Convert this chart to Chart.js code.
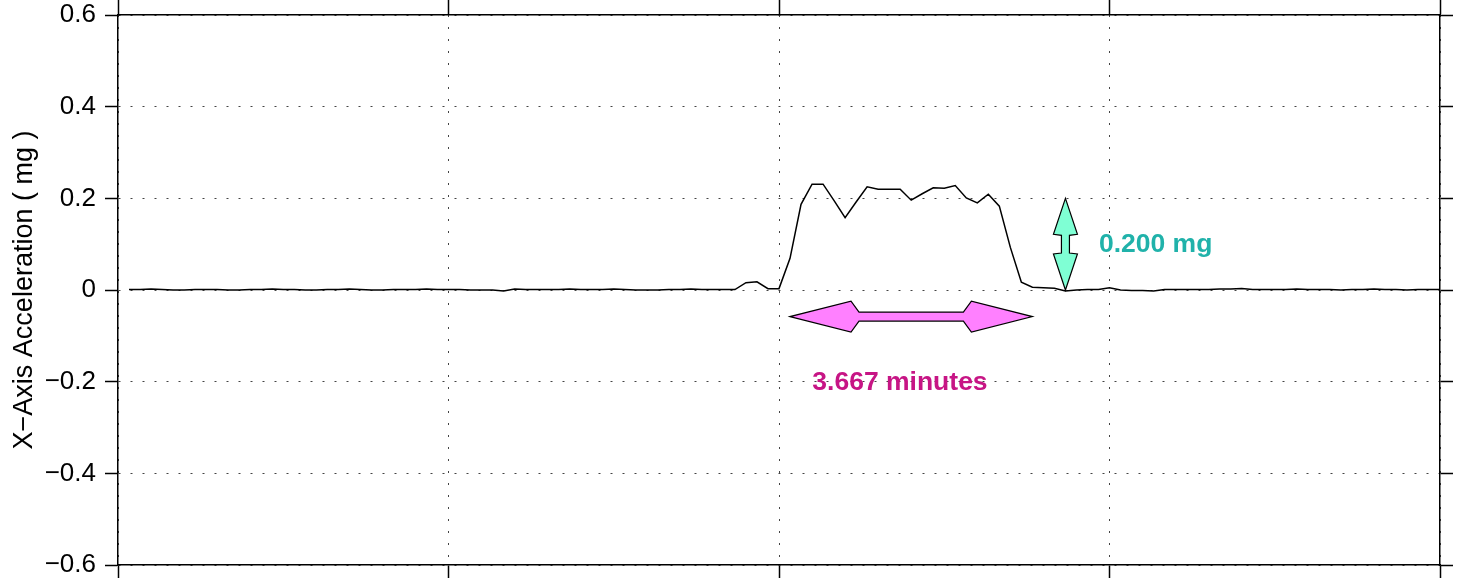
<!DOCTYPE html>
<html>
<head>
<meta charset="utf-8">
<script src="https://cdn.jsdelivr.net/npm/chart.js@4.4.1/dist/chart.umd.min.js"></script>
<style>
  html, body { margin: 0; padding: 0; background: #fff; }
  canvas { display: block; }
</style>
</head>
<body>
<canvas id="c" width="1468" height="581"></canvas>
<script>
// Sample spacing of the acceleration record (seconds)
const sampleSeconds = 10;

// X-axis acceleration (mg), one sample every 10 s
const accel = [
  0.001, 0.001, 0.002, 0.001, 0.000, 0.000, 0.001, 0.001, 0.001, 0.000,
  0.000, 0.001, 0.001, 0.002, 0.001, 0.001, 0.000, 0.000, 0.001, 0.001,
  0.002, 0.001, 0.000, 0.000, 0.001, 0.001, 0.001, 0.002, 0.001, 0.001,
  0.001, 0.000, 0.000, 0.000, -0.002, 0.002, 0.001, 0.001, 0.001, 0.001,
  0.002, 0.001, 0.001, 0.001, 0.002, 0.001, 0.000, 0.000, 0.000, 0.001,
  0.001, 0.002, 0.001, 0.001, 0.001, 0.001,
  0.016, 0.018, 0.003, 0.003, 0.069, 0.187, 0.231, 0.231, 0.195, 0.158,
  0.192, 0.225, 0.220, 0.220, 0.220, 0.196, 0.210, 0.223, 0.222, 0.228,
  0.201, 0.190, 0.209, 0.183, 0.093, 0.017, 0.006, 0.005, 0.004, -0.002,
  0.000, 0.001, 0.001, 0.005, 0.000, -0.001, -0.001, -0.002, 0.001, 0.001,
  0.001, 0.001, 0.001, 0.002, 0.002, 0.003, 0.001, 0.001, 0.001, 0.001,
  0.002, 0.001, 0.001, 0.001, 0.000, 0.001, 0.001, 0.002, 0.001, 0.001,
  0.000, 0.001, 0.001, 0.001
];

// Axis ranges
const xRange = [0, 20];      // minutes
const xStep = 5;
const yRange = [-0.6, 0.6];  // mg
const yStep = 0.2;

// Annotated step: amplitude and duration
const stepAmplitude = 0.200;   // mg
const stepStart = 61 * sampleSeconds / 60;   // minutes
const stepEnd = 83 * sampleSeconds / 60;     // minutes
const amplitudeAt = 86 * sampleSeconds / 60; // minutes
const durationLevel = -0.058;                // mg, height of the duration arrow
const amplitudeLabel = stepAmplitude.toFixed(3) + ' mg';
const durationLabel = (stepEnd - stepStart).toFixed(3) + ' minutes';

const points = accel.map((v, i) => ({ x: (i + 1) * sampleSeconds / 60, y: v }));

const FONT = '"Liberation Sans", Arial, Helvetica, sans-serif';

function fmtTick(v) {
  if (Math.abs(v) < 1e-9) return '0';
  return (v < 0 ? '\u2212' : '') + Math.abs(v).toFixed(1);
}

// Double-headed block arrow between two pixel points
function blockArrow(ctx, x1, y1, x2, y2, L, H, S, N, fill) {
  const dx = x2 - x1, dy = y2 - y1;
  const len = Math.hypot(dx, dy);
  const ux = dx / len, uy = dy / len;
  const nx = -uy, ny = ux;
  const p = (bx, by, a, b) => [bx + ux * a + nx * b, by + uy * a + ny * b];
  const pts = [
    [x1, y1],
    p(x1, y1, L, H),
    p(x1, y1, L + N, S),
    p(x2, y2, -(L + N), S),
    p(x2, y2, -L, H),
    [x2, y2],
    p(x2, y2, -L, -H),
    p(x2, y2, -(L + N), -S),
    p(x1, y1, L + N, -S),
    p(x1, y1, L, -H)
  ];
  ctx.beginPath();
  ctx.moveTo(pts[0][0], pts[0][1]);
  for (let i = 1; i < pts.length; i++) ctx.lineTo(pts[i][0], pts[i][1]);
  ctx.closePath();
  ctx.fillStyle = fill;
  ctx.fill();
  ctx.lineWidth = 1.2;
  ctx.strokeStyle = '#000';
  ctx.lineJoin = 'miter';
  ctx.stroke();
}

const stepAnnotations = {
  id: 'stepAnnotations',
  afterDatasetsDraw(chart) {
    const { ctx } = chart;
    const xs = chart.scales.x, ys = chart.scales.y;
    ctx.save();
    // amplitude arrow
    const ax = xs.getPixelForValue(amplitudeAt);
    blockArrow(ctx, ax, ys.getPixelForValue(stepAmplitude), ax, ys.getPixelForValue(0),
      36, 12, 4, 1, '#7FFFD4');
    // duration arrow
    const dy = ys.getPixelForValue(durationLevel);
    blockArrow(ctx, xs.getPixelForValue(stepStart), dy, xs.getPixelForValue(stepEnd), dy,
      61, 15.5, 4.5, 8, '#FF80FF');
    // labels
    ctx.font = 'bold 26.5px ' + FONT;
    ctx.textBaseline = 'middle';
    ctx.fillStyle = '#20B2AA';
    ctx.textAlign = 'left';
    ctx.fillText(amplitudeLabel, xs.getPixelForValue(14.84), ys.getPixelForValue(0.098));
    ctx.fillStyle = '#C71585';
    ctx.textAlign = 'center';
    ctx.fillText(durationLabel, xs.getPixelForValue(11.83), ys.getPixelForValue(-0.202));
    ctx.restore();
  }
};

// Fixed box sizes so the plot frame sits where the axes need it
const fixBox = (w, h) => s => {
  if (w !== null) s.width = w;
  if (h !== null) s.height = h;
  s.paddingTop = 0; s.paddingBottom = 0; s.paddingLeft = 0; s.paddingRight = 0;
};

const solidTick = { drawTicks: true, tickColor: '#000', tickWidth: 1.5, tickBorderDash: [] };
const frame = { display: true, color: '#000', width: 1.5 };
const dottedFrame = { ...frame, dash: [2, 10] };

new Chart(document.getElementById('c'), {
  type: 'line',
  data: {
    datasets: [{
      data: points,
      borderColor: '#000',
      borderWidth: 1.5,
      pointRadius: 0,
      tension: 0,
      fill: false
    }]
  },
  options: {
    responsive: false,
    animation: false,
    devicePixelRatio: 1,
    layout: { padding: 0 },
    plugins: { legend: { display: false }, tooltip: { enabled: false } },
    scales: {
      x: {
        type: 'linear', position: 'bottom',
        min: xRange[0], max: xRange[1],
        afterFit: fixBox(null, 16),
        ticks: { display: false, stepSize: xStep },
        grid: { color: '#444', lineWidth: 1, ...solidTick, tickLength: 13 },
        border: dottedFrame
      },
      x2: {
        type: 'linear', position: 'top',
        min: xRange[0], max: xRange[1],
        afterFit: fixBox(null, 15),
        ticks: { display: false, stepSize: xStep },
        grid: { drawOnChartArea: false, ...solidTick, tickLength: 15 },
        border: frame
      },
      y: {
        position: 'left',
        min: yRange[0], max: yRange[1],
        afterFit: fixBox(118, null),
        ticks: {
          stepSize: yStep,
          padding: 9,
          color: '#000',
          font: { family: FONT, size: 26 },
          callback: v => fmtTick(v)
        },
        grid: { color: '#444', lineWidth: 1, ...solidTick, tickLength: 13 },
        border: dottedFrame,
        title: {
          display: true,
          text: 'X\u2212Axis Acceleration ( mg )',
          color: '#000',
          font: { family: FONT, size: 27 },
          padding: { top: 8, bottom: 0 }
        }
      },
      y2: {
        position: 'right',
        min: yRange[0], max: yRange[1],
        afterFit: fixBox(28, null),
        ticks: { display: false, stepSize: yStep },
        grid: { drawOnChartArea: false, ...solidTick, tickLength: 13 },
        border: frame
      }
    }
  },
  plugins: [stepAnnotations]
});
</script>
</body>
</html>
